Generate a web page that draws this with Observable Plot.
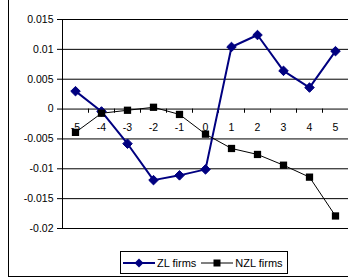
<!DOCTYPE html>
<html>
<head>
<meta charset="utf-8">
<script src="https://cdn.jsdelivr.net/npm/d3@7"></script>
<script src="https://cdn.jsdelivr.net/npm/@observablehq/plot@0.6"></script>
<style>
  html, body { margin: 0; padding: 0; background: #fff; }
  #wrap { position: relative; width: 348px; height: 278px; overflow: hidden; font-family: "Liberation Sans", Arial, sans-serif; }
  #border { position: absolute; left: 8px; top: -2px; width: 345px; height: 279px; border-left: 1px solid #000; border-bottom: 1px solid #000; box-sizing: border-box; }
  #chart { position: absolute; left: 0; top: 0; }
  #legend { position: absolute; left: 120px; top: 251px; width: 168px; height: 23px; border: 1px solid #000; box-sizing: border-box; background: #fff; display: flex; align-items: center; font-size: 11px; color: #000; white-space: nowrap; }
  #legend svg { display: block; }
  .item { display: flex; align-items: center; }
</style>
</head>
<body>
<div id="wrap">
  <div id="border"></div>
  <div id="chart"></div>
  <div id="legend"></div>
</div>
<script>
const categories = [-5, -4, -3, -2, -1, 0, 1, 2, 3, 4, 5];
const zlFirms  = [0.0030, -0.0004, -0.0058, -0.0119, -0.0111, -0.0101, 0.0104, 0.0124, 0.0064, 0.0036, 0.0097];
const nzlFirms = [-0.0039, -0.0007, -0.0002, 0.0003, -0.0009, -0.0042, -0.0066, -0.0076, -0.0094, -0.0114, -0.0179];
const yTicks = [-0.02, -0.015, -0.01, -0.005, 0, 0.005, 0.01, 0.015];
const seriesNames = ["ZL firms", "NZL firms"];

const zl = categories.map((c, i) => ({x: c, y: zlFirms[i]}));
const nzl = categories.map((c, i) => ({x: c, y: nzlFirms[i]}));
const fmt = d => String(+d.toFixed(3));

const plot = Plot.plot({
  width: 348,
  height: 278,
  marginLeft: 62,
  marginRight: 0,
  marginTop: 19,
  marginBottom: 50,
  style: {fontFamily: "'Liberation Sans', Arial, sans-serif", fontSize: "10.5px", background: "transparent"},
  x: {type: "point", domain: categories, padding: 0.5, axis: null},
  y: {domain: [-0.02, 0.015], axis: null},
  marks: [
    Plot.ruleY(yTicks, {stroke: "#000", strokeWidth: 1}),
    Plot.ruleX([categories[0]], {dx: -13, y1: -0.02, y2: 0.015, stroke: "#000"}),
    Plot.axisY({ticks: yTicks, tickFormat: fmt, tickSize: 5, tickPadding: 4, fontSize: 10.5, stroke: "#000", label: null}),
    Plot.ruleX(categories, {x: d => d, y1: 0, y2: -0.0007, dx: 13, stroke: "#000"}),
    Plot.text(categories, {x: d => d, y: () => 0, text: d => String(d), dy: 19, fontSize: 10.5, fill: "#000"}),
    Plot.line(zl, {x: "x", y: "y", stroke: "#000080", strokeWidth: 2}),
    Plot.dot(zl, {x: "x", y: "y", symbol: "diamond2", r: 4.3, fill: "#000080", stroke: "#000080", strokeWidth: 1}),
    Plot.line(nzl, {x: "x", y: "y", stroke: "#000", strokeWidth: 1}),
    Plot.dot(nzl, {x: "x", y: "y", symbol: "square", r: 4.1, fill: "#000", stroke: "none"})
  ]
});
document.getElementById("chart").appendChild(plot);

const svgNS = "http://www.w3.org/2000/svg";
const legend = document.getElementById("legend");
function swatch(kind) {
  const s = document.createElementNS(svgNS, "svg");
  s.setAttribute("width", 32); s.setAttribute("height", 12);
  const l = document.createElementNS(svgNS, "line");
  l.setAttribute("x1", 0); l.setAttribute("x2", 32); l.setAttribute("y1", 6); l.setAttribute("y2", 6);
  if (kind === "zl") {
    l.setAttribute("stroke", "#000080"); l.setAttribute("stroke-width", 2);
    s.appendChild(l);
    const p = document.createElementNS(svgNS, "path");
    p.setAttribute("d", "M16,1.5L20.5,6L16,10.5L11.5,6Z");
    p.setAttribute("fill", "#000080");
    s.appendChild(p);
  } else {
    l.setAttribute("stroke", "#000"); l.setAttribute("stroke-width", 1);
    s.appendChild(l);
    const r = document.createElementNS(svgNS, "rect");
    r.setAttribute("x", 12.5); r.setAttribute("y", 2.5); r.setAttribute("width", 7); r.setAttribute("height", 7);
    r.setAttribute("fill", "#000");
    s.appendChild(r);
  }
  return s;
}
[["zl", seriesNames[0], 2], ["nzl", seriesNames[1], 5]].forEach(([k, name, ml]) => {
  const it = document.createElement("div");
  it.className = "item";
  it.style.marginLeft = ml + "px";
  it.appendChild(swatch(k));
  const t = document.createElement("span");
  t.textContent = name;
  t.style.marginLeft = "2px";
  it.appendChild(t);
  legend.appendChild(it);
});
</script>
</body>
</html>
